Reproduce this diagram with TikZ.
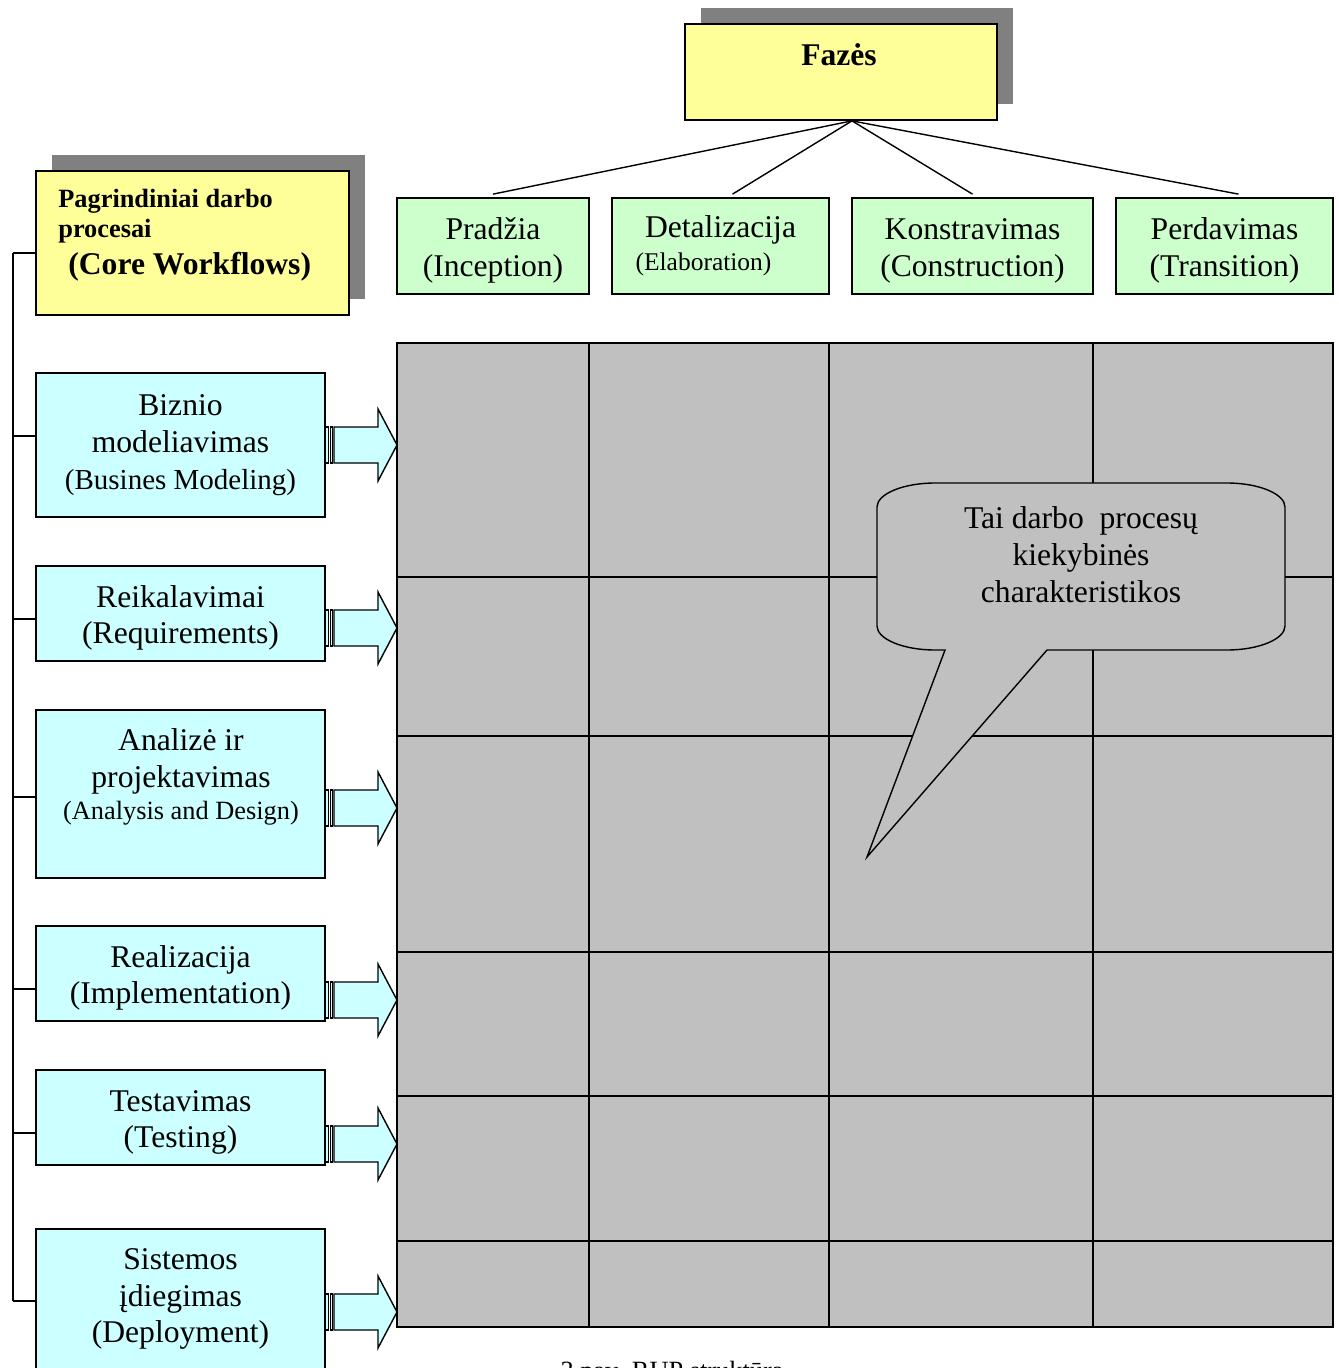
\documentclass[tikz,border=0pt]{standalone}
\usepackage{fontspec}
\setmainfont{Liberation Serif}
\usetikzlibrary{shadows}

\definecolor{headyellow}{HTML}{FFFF99}
\definecolor{shadowgray}{HTML}{808080}
\definecolor{phasegreen}{HTML}{CCFFCC}
\definecolor{flowcyan}{HTML}{CCFFFF}
\definecolor{cellgray}{HTML}{C0C0C0}
\newcommand{\fsz}[2]{\fontsize{#1}{#2}\selectfont}
\newcommand{\lift}{\rule{0pt}{17.5pt}}

\begin{document}
\begin{tikzpicture}[x=0.02cm, y=-0.02cm,
        box/.style={draw, line width=1pt, inner sep=0pt, align=center},
        headbox/.style={box, fill=headyellow,
            drop shadow={shadow xshift=0.32cm, shadow yshift=0.32cm, fill=shadowgray, opacity=1}},
        phasebox/.style={box, fill=phasegreen, minimum height=1.92cm, font=\fsz{18}{21}},
        flowbox/.style={box, fill=flowcyan, minimum width=5.78cm, font=\fsz{18}{21}},
        txt/.style={inner sep=0pt, align=center},
        link/.style={line width=0.8pt},
        flowarrow/.style={draw, line width=0.8pt, fill=flowcyan}]

    \useasboundingbox (0,0) rectangle (1338,1368);

    % phases
    \node[headbox, minimum width=6.24cm, minimum height=1.92cm] (fz) at (841,72) {};
    \node[txt, anchor=base, font=\bfseries\fsz{18}{21}] (fz-t) at (839,66) {Fazės};

    \node[phasebox, minimum width=3.84cm] (pr) at (493,246) {\lift Pradžia\\(Inception)};
    \node[phasebox, minimum width=4.34cm] (de) at (720.5,246) {Detalizacija\\[-2pt]{\fsz{14.5}{18}(Elaboration)}\hspace*{0.68cm}};
    \node[phasebox, minimum width=4.82cm] (ko) at (972.5,246) {\lift Konstravimas\\(Construction)};
    \node[phasebox, minimum width=4.34cm] (pe) at (1224.5,246) {\lift Perdavimas\\(Transition)};

    \coordinate (hub) at ([xshift=0.22cm]fz.south);
    \foreach \n/\dx in {pr/0, de/12, ko/0, pe/14}
        \draw[link] (hub) -- ([shift={(\dx,-3)}]\n.north);

    % core workflows
    \node[headbox, minimum width=6.26cm, minimum height=2.88cm] (core) at (192.5,243) {};
    \node[txt, align=left, anchor=north west, font=\bfseries\fsz{15}{16.8}] (core-t) at (58,189) {Pagrindiniai darbo\\procesai};
    \node[txt, anchor=base west, font=\bfseries\fsz{18}{21}] (core-en) at (68,275) {(Core Workflows)};

    \node[flowbox, minimum height=2.88cm] (bm) at (180.5,445) {Biznio\\modeliavimas\\{\fsz{16.5}{21}(Busines Modeling)}};
    \node[flowbox, minimum height=1.9cm] (rq) at (180.5,613.5) {\lift Reikalavimai\\(Requirements)};
    \node[flowbox, minimum height=3.36cm] (ad) at (180.5,794) {};
    \node[txt, font=\fsz{18}{21}] (ad-t) at (181,777) {Analizė ir\\projektavimas\\[-2.4pt]{\fsz{15}{18}(Analysis and Design)}};
    \node[flowbox, minimum height=1.9cm] (im) at (180.5,973.5) {\lift Realizacija\\(Implementation)};
    \node[flowbox, minimum height=1.9cm] (ts) at (180.5,1117.5) {\lift Testavimas\\(Testing)};
    \node[flowbox, minimum height=3.42cm] (dp) at (180.5,1314.5) {};
    \node[txt, font=\fsz{18}{21}] (dp-t) at (180.5,1299) {Sistemos\\įdiegimas\\(Deployment)};

    \draw[link] (13,253) -- (13,1301);
    \foreach \n/\y in {core/253, bm/436, rq/619, ad/797, im/989, ts/1133, dp/1301}
        \draw[link] (13,\y) -- (\n.west |- 0,\y);

    % grid
    \draw[link, fill=cellgray] (397,343) rectangle (1333,1327);
    \foreach \x in {589,829,1093}
        \draw[link] (\x,343) -- (\x,1327);
    \foreach \y in {577,736,952,1096,1241}
        \draw[link] (397,\y) -- (1333,\y);

    \foreach \y in {445,628,808,1000,1144,1312} {
        \draw[flowarrow] (334,\y-18) -- (378,\y-18) -- (378,\y-36) -- (397,\y)
            -- (378,\y+36) -- (378,\y+18) -- (334,\y+18) -- cycle;
        \draw[flowarrow] (325,\y-18) rectangle (328.5,\y+18);
        \draw[flowarrow] (330.5,\y-18) rectangle (332.5,\y+18);
    }

    % callout
    \draw[link, fill=cellgray] (945,650) -- (867,857) -- (1047,650) -- (1227,650)
        .. controls (1259,650) and (1285,639) .. (1285,626) -- (1285,507)
        .. controls (1285,494) and (1259,483) .. (1227,483) -- (935,483)
        .. controls (903,483) and (877,494) .. (877,507) -- (877,626)
        .. controls (877,639) and (903,650) .. (935,650) -- cycle;
    \node[txt, font=\fsz{18}{21}] (note) at (1081,555) {Tai darbo\ \ procesų\\kiekybinės\\charakteristikos};

    \node[txt, anchor=base, font=\fsz{15}{18}] (cap) at (672,1379) {3 pav. RUP struktūra};
\end{tikzpicture}
\end{document}
